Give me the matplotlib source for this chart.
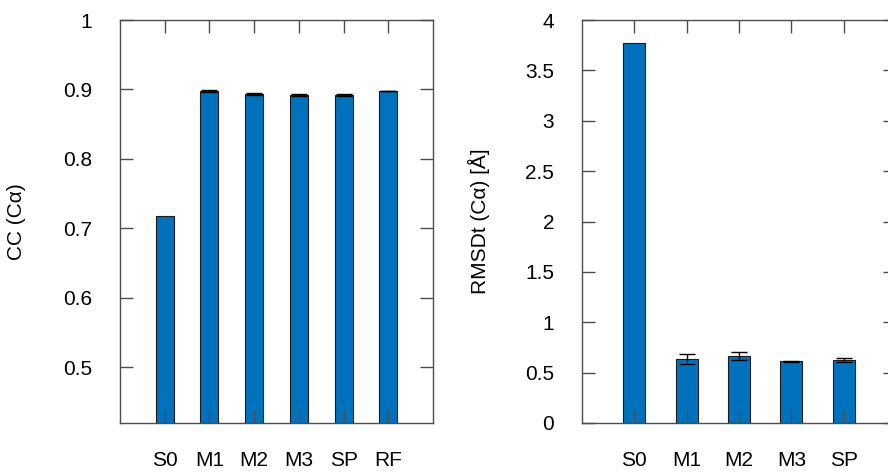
import numpy as np
import matplotlib.pyplot as plt

plt.rcParams['font.family'] = ['Liberation Sans', 'DejaVu Sans']

# CC panel
cc_labels = ['S0', 'M1', 'M2', 'M3', 'SP', 'RF']
cc_vals = [0.718, 0.898, 0.893, 0.892, 0.892, 0.898]
cc_err = [np.nan, 0.0015, 0.0015, 0.0008, 0.0008, 0.0005]

# RMSD panel
rmsd_labels = ['S0', 'M1', 'M2', 'M3', 'SP']
rmsd_vals = [3.775, 0.632, 0.662, 0.612, 0.625]
rmsd_err = [np.nan, 0.05, 0.038, 0.005, 0.018]

barcol = '#0072BD'
spinecol = '#4d4d4d'
fs = 15

fig = plt.figure(figsize=(8.88, 4.72), dpi=100)
ax1 = fig.add_axes([120/888, 49/472, 313/888, 403/472])
ax2 = fig.add_axes([582/888, 49/472, 314/888, 403/472])


def style(ax, n, labels):
    ax.set_xlim(0, n + 1)
    ax.set_xticks(np.arange(1, n + 1))
    ax.set_xticklabels(labels)
    ax.tick_params(axis='both', direction='in', length=9.5, width=1,
                   color=spinecol, labelsize=fs, top=True, right=True)
    ax.tick_params(axis='x', pad=20)
    ax.tick_params(axis='y', pad=20)
    for s in ax.spines.values():
        s.set_color(spinecol)
        s.set_linewidth(1)


x1 = np.arange(1, len(cc_labels) + 1)
ax1.bar(x1, cc_vals, width=0.4, color=barcol, edgecolor='#1a1a1a', linewidth=0.8,
        yerr=cc_err, error_kw=dict(ecolor='black', capsize=6, elinewidth=1, capthick=1))
ax1.set_ylim(0.42, 1)
ax1.set_yticks([0.5, 0.6, 0.7, 0.8, 0.9, 1])
ax1.set_yticklabels(['0.5', '0.6', '0.7', '0.8', '0.9', '1'])
style(ax1, len(cc_labels), cc_labels)
ax1.set_ylabel('CC (Cα)', fontsize=fs)
ax1.yaxis.set_label_coords(-0.30, 0.5)

x2 = np.arange(1, len(rmsd_labels) + 1)
ax2.bar(x2, rmsd_vals, width=0.42, color=barcol, edgecolor='#1a1a1a', linewidth=0.8,
        yerr=rmsd_err, error_kw=dict(ecolor='black', capsize=6, elinewidth=1, capthick=1))
ax2.set_ylim(0, 4)
ax2.set_yticks([0, 0.5, 1, 1.5, 2, 2.5, 3, 3.5, 4])
ax2.set_yticklabels(['0', '0.5', '1', '1.5', '2', '2.5', '3', '3.5', '4'])
style(ax2, len(rmsd_labels), rmsd_labels)
ax2.set_ylabel('RMSDt (Cα) [Å]', fontsize=fs)
ax2.yaxis.set_label_coords(-0.293, 0.5)

plt.savefig('out.png', dpi=100)
